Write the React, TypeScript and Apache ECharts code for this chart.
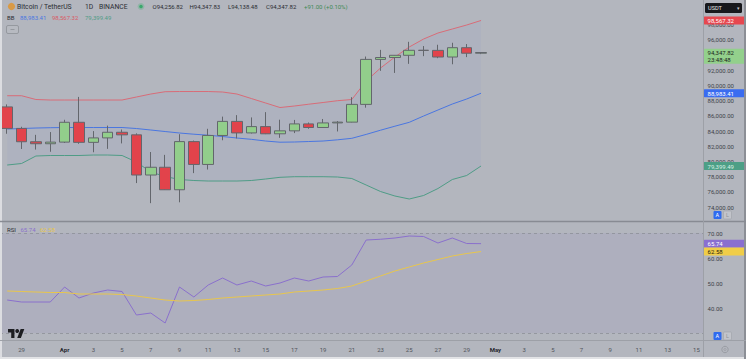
import React, { useEffect, useRef } from "react";
import * as echarts from "echarts";

// ---------- data ----------
const dates = [
  "03-28", "03-29", "03-30", "03-31",
  "04-01", "04-02", "04-03", "04-04", "04-05", "04-06", "04-07", "04-08", "04-09", "04-10",
  "04-11", "04-12", "04-13", "04-14", "04-15", "04-16", "04-17", "04-18", "04-19", "04-20",
  "04-21", "04-22", "04-23", "04-24", "04-25", "04-26", "04-27", "04-28", "04-29", "04-30",
  "05-01", "05-02", "05-03", "05-04", "05-05", "05-06", "05-07", "05-08", "05-09", "05-10",
  "05-11", "05-12", "05-13", "05-14", "05-15",
];
const xLabelDates = [
  "03-29", "04-01", "04-03", "04-05", "04-07", "04-09", "04-11", "04-13", "04-15", "04-17",
  "04-19", "04-21", "04-23", "04-25", "04-27", "04-29", "05-01", "05-03", "05-05", "05-07",
  "05-09", "05-11", "05-13", "05-15",
];
const priceTickLabels = [74000, 76000, 78000, 80000, 82000, 84000, 86000, 88000, 90000, 92000, 96000, 98000];
const rsiTickLabels = [40, 50, 60, 70];

const openP = [87185, 84352, 82597, 82334, 82548, 85159, 82516, 83102, 83843, 83504, 78214, 79235, 76272, 82615, 79607, 83423, 85276, 83760, 84591, 83643, 84030, 84947, 84474, 85077, 85179, 87516, 93442, 93691, 93980, 94638, 94629, 93754, 94982, 94256.82];
const closeP = [84352, 82597, 82334, 82548, 85159, 82516, 83102, 83843, 83504, 78214, 79235, 76272, 82615, 79607, 83423, 85276, 83760, 84591, 83643, 84030, 84947, 84474, 85077, 85179, 87516, 93442, 93691, 93980, 94638, 94629, 93754, 94982, 94256.82, 94347.82];
const lowP = [83646, 81644, 81565, 81278, 82432, 82320, 81211, 81659, 82377, 77153, 74508, 76239, 74620, 78464, 78936, 82792, 83034, 83678, 83600, 83111, 83736, 84303, 84428, 83950, 85144, 87084, 91935, 91660, 92855, 93870, 93602, 92800, 93742, 94138.48];
const highP = [87515, 84567, 83505, 83870, 85487, 88500, 83998, 84720, 84208, 83704, 81243, 80867, 83588, 82753, 84300, 85905, 86100, 85800, 86496, 85500, 85470, 85132, 85595, 85320, 88465, 93817, 94696, 94000, 95758, 95199, 95369, 95630, 95461, 94347.83];

const bbUpper = [88658, 88658, 88158, 88092, 88092, 88092, 88092, 88092, 88092, 88487, 88882, 89185, 89211, 89211, 89211, 89146, 88882, 88290, 87697, 87104, 87302, 87539, 87763, 88000, 88158, 90594, 92306, 93755, 95072, 96126, 96916, 97443, 97970, 98567.32];
const bbBasis = [84273, 84338, 84404, 84444, 84470, 84470, 84470, 84470, 84470, 84338, 84141, 83943, 83746, 83588, 83456, 83285, 83087, 82916, 82692, 82534, 82561, 82626, 82692, 82850, 83048, 83561, 84115, 84641, 85155, 85985, 86775, 87565, 88224, 88983.41];
const bbLower = [79531, 79729, 80717, 80783, 80783, 80783, 80848, 80848, 80783, 79927, 78610, 78017, 77622, 77490, 77424, 77424, 77424, 77490, 77688, 77911, 77990, 77990, 77990, 77951, 77754, 76897, 76041, 75449, 75054, 75515, 76436, 77622, 78149, 79399.49];

const rsi = [43.2, 42.4, 42.4, 42.4, 48.4, 44.0, 46.0, 47.2, 46.6, 37.2, 38.0, 34.0, 48.4, 44.4, 49.2, 52.0, 49.2, 50.8, 48.8, 50.0, 52.0, 50.8, 52.4, 52.6, 57.2, 67.2, 67.5, 68.0, 68.8, 68.6, 66.0, 68.0, 65.8, 65.74];
const rsiMa = [46.8, 46.6, 46.4, 46.2, 46.2, 45.6, 45.6, 45.6, 45.4, 44.8, 44.0, 43.2, 42.8, 43.0, 43.4, 44.0, 44.4, 44.8, 45.2, 45.6, 46.4, 46.8, 47.2, 47.8, 48.8, 50.8, 52.8, 54.8, 56.4, 58.0, 59.4, 60.8, 61.8, 62.58];

const rsiBands = [30, 70];
const countdown = "23:48:48";

// ---------- styles ----------
const FONT = "Roboto, 'Liberation Sans', sans-serif";
const BG = "#b3b6be";
const UP = "#92ce8b";
const DOWN = "#e2434b";
const WICK = "#63666c";
const C_UPPER = "#d86c78";
const C_BASIS = "#4a76e0";
const C_LOWER = "#4f9c86";
const C_RSI = "#8a70cc";
const C_MA = "#e8c64c";
const TXT = "#2b2d33";
const AX = "#40434a";

const fmt2 = (v: number) =>
  v.toLocaleString("en-US", { minimumFractionDigits: 2, maximumFractionDigits: 2 });

try {
  echarts.graphic.registerShape(
    "tvlogo",
    echarts.graphic.extendPath("M14 22H7V11H0V4h14v18zM28 22h-8l7.5-18h8L28 22z", {})
  );
} catch (e) {}

function tagItem(value: number, text: string, bg: string, fg: string, extra: any = {}) {
  return {
    yAxis: value,
    lineStyle: { color: "rgba(0,0,0,0)", width: 1 },
    label: {
      show: true,
      position: "end",
      distance: 0,
      formatter: text,
      backgroundColor: bg,
      color: fg,
      fontSize: 6,
      fontFamily: FONT,
      lineHeight: 7,
      padding: [0.5, 2, 0.5, 4],
      width: 36,
      borderRadius: 1,
      ...extra,
    },
  };
}

function txt(x: number, y: number, text: string, fill: string, size = 6.5, extra: any = {}) {
  return {
    type: "text",
    x,
    y,
    silent: true,
    z: 100,
    style: { text, fill, fontSize: size, fontFamily: FONT, verticalAlign: "middle", ...extra },
  };
}

export default function App() {
  const ref = useRef<HTMLDivElement>(null);
  useEffect(() => {
    if (!ref.current) return;
    const chart = echarts.init(ref.current, null, { renderer: "svg" });
    const n = closeP.length;
    const candles = closeP.map((c, i) => [openP[i], c, lowP[i], highP[i]]);
    const lastO = openP[n - 1];
    const lastC = closeP[n - 1];
    const chg = lastC - lastO;
    const pct = (chg / lastO) * 100;

    const graphic: any[] = [
      // frame lines
      { type: "rect", shape: { x: 0, y: 0, width: 2, height: 359 }, style: { fill: "#dcdde1" }, silent: true, z: 100 },
      { type: "rect", shape: { x: 0, y: 357, width: 746, height: 2 }, style: { fill: "#e2e3e6" }, silent: true, z: 100 },
      { type: "rect", shape: { x: 744, y: 0, width: 2, height: 359 }, style: { fill: "#8c8f96" }, silent: true, z: 100 },
      { type: "line", shape: { x1: 0, y1: 221.5, x2: 746, y2: 221.5 }, style: { stroke: "#888b93", lineWidth: 1.5 }, silent: true, z: 100 },
      { type: "line", shape: { x1: 0, y1: 340.5, x2: 746, y2: 340.5 }, style: { stroke: "#9da0a7", lineWidth: 1 }, silent: true, z: 100 },
      { type: "line", shape: { x1: 703.5, y1: 0, x2: 703.5, y2: 357 }, style: { stroke: "#9da0a7", lineWidth: 1 }, silent: true, z: 100 },
      // header
      { type: "circle", shape: { cx: 11.5, cy: 6.5, r: 3.6 }, style: { fill: "#d99a45" }, silent: true, z: 100 },
      txt(17, 6.8, "Bitcoin / TetherUS", TXT, 6.8),
      txt(85, 6.8, "1D", TXT, 6.8),
      txt(99, 6.8, "BINANCE", TXT, 6.8),
      { type: "circle", shape: { cx: 141, cy: 6.5, r: 3.4 }, style: { fill: "rgba(70,175,120,0.3)" }, silent: true, z: 100 },
      { type: "circle", shape: { cx: 141, cy: 6.5, r: 1.8 }, style: { fill: "#3aa86c" }, silent: true, z: 100 },
      txt(152.5, 6.8, "O" + fmt2(lastO), TXT, 6),
      txt(189.5, 6.8, "H" + fmt2(highP[n - 1]), TXT, 6),
      txt(228, 6.8, "L" + fmt2(lowP[n - 1]), TXT, 6),
      txt(266, 6.8, "C" + fmt2(lastC), TXT, 6),
      txt(304, 6.8, (chg >= 0 ? "+" : "") + fmt2(chg) + " (" + (chg >= 0 ? "+" : "") + pct.toFixed(2) + "%)", "#3f8a55", 6),
      // BB legend
      txt(7, 17.5, "BB", TXT, 6),
      txt(20, 17.5, fmt2(bbBasis[n - 1]), C_BASIS, 6),
      txt(52, 17.5, fmt2(bbUpper[n - 1]), "#d95a66", 6),
      txt(85, 17.5, fmt2(bbLower[n - 1]), C_LOWER, 6),
      { type: "rect", shape: { x: 6.5, y: 25.5, width: 12, height: 8, r: 1.5 }, style: { fill: "rgba(255,255,255,0.06)", stroke: "#8d9097", lineWidth: 0.8 }, silent: true, z: 100 },
      { type: "line", shape: { x1: 10.5, y1: 29.5, x2: 14.5, y2: 29.5 }, style: { stroke: "#8d9097", lineWidth: 0.8 }, silent: true, z: 100 },
      // RSI legend
      txt(7, 229.3, "RSI", TXT, 6),
      txt(20.5, 229.3, rsi[n - 1].toFixed(2), C_RSI, 6),
      txt(40, 229.3, rsiMa[n - 1].toFixed(2), C_MA, 6),
      // currency selector
      { type: "rect", shape: { x: 705, y: 3, width: 37, height: 10, r: 1.5 }, style: { fill: "#17181c" }, silent: true, z: 100 },
      txt(708, 8, "USDT", "#e6e6e8", 5.6),
      txt(736.5, 8, "▾", "#c8c8cc", 5),
      // A / L buttons (main pane)
      { type: "rect", shape: { x: 713.5, y: 211, width: 8, height: 8, r: 1 }, style: { fill: "#2f6bef" }, silent: true, z: 100 },
      txt(715.6, 215.2, "A", "#ffffff", 5.5),
      { type: "rect", shape: { x: 723.5, y: 211, width: 8, height: 8, r: 1 }, style: { fill: "#c2c4ca", stroke: "#9ea1a8", lineWidth: 0.6 }, silent: true, z: 100 },
      txt(726, 215.2, "L", "#8e9198", 5.5),
      // A / L buttons (RSI pane)
      { type: "rect", shape: { x: 713.5, y: 332, width: 8, height: 8, r: 1 }, style: { fill: "#2f6bef" }, silent: true, z: 100 },
      txt(715.6, 336.2, "A", "#ffffff", 5.5),
      { type: "rect", shape: { x: 723.5, y: 332, width: 8, height: 8, r: 1 }, style: { fill: "#c2c4ca", stroke: "#9ea1a8", lineWidth: 0.6 }, silent: true, z: 100 },
      txt(726, 336.2, "L", "#8e9198", 5.5),
      // gear icon
      { type: "circle", shape: { cx: 725, cy: 349.5, r: 3.2 }, style: { fill: "none", stroke: "#9a9da4", lineWidth: 1 }, silent: true, z: 100 },
      { type: "circle", shape: { cx: 725, cy: 349.5, r: 1.1 }, style: { fill: "none", stroke: "#9a9da4", lineWidth: 0.8 }, silent: true, z: 100 },
      // TradingView logo
      { type: "tvlogo", x: 8, y: 327, scaleX: 0.46, scaleY: 0.5, style: { fill: "#1d1e22" }, silent: true, z: 100 },
      { type: "circle", shape: { cx: 8 + 20 * 0.46, cy: 327 + 8 * 0.5, r: 1.9 }, style: { fill: "#1d1e22" }, silent: true, z: 100 },
    ];

    const option: any = {
      animation: false,
      backgroundColor: BG,
      textStyle: { fontFamily: FONT },
      grid: [
        { left: -3.6, top: 0, width: 707.2, height: 222.2 },
        { left: -3.6, top: 222, width: 707.2, height: 136 },
      ],
      xAxis: [
        { type: "category", gridIndex: 0, data: dates, boundaryGap: true, show: false },
        {
          type: "category",
          gridIndex: 1,
          data: dates,
          boundaryGap: true,
          offset: -18,
          axisLine: { show: false },
          axisTick: { show: false },
          splitLine: { show: false },
          axisLabel: {
            interval: (_i: number, v: string) => xLabelDates.includes(v),
            formatter: (v: string) =>
              v === "04-01" ? "{m|Apr}" : v === "05-01" ? "{m|May}" : String(parseInt(v.slice(3), 10)),
            margin: 6,
            fontSize: 6,
            color: "#50535a",
            fontFamily: FONT,
            rich: { m: { fontSize: 6, fontWeight: "bold", color: "#26282e", fontFamily: FONT } },
          },
        },
      ],
      yAxis: [
        {
          type: "value",
          gridIndex: 0,
          position: "right",
          min: 72000,
          max: 101264,
          interval: 2000,
          splitLine: { show: false },
          axisLine: { show: false },
          axisTick: { show: false },
          axisLabel: {
            margin: 4,
            fontSize: 6,
            color: AX,
            fontFamily: FONT,
            formatter: (v: number) => (priceTickLabels.includes(v) ? fmt2(v) : ""),
          },
        },
        {
          type: "value",
          gridIndex: 1,
          position: "right",
          min: 20,
          max: 74.4,
          interval: 10,
          splitLine: { show: false },
          axisLine: { show: false },
          axisTick: { show: false },
          axisLabel: {
            margin: 4,
            fontSize: 6,
            color: AX,
            fontFamily: FONT,
            formatter: (v: number) => (rsiTickLabels.includes(v) ? v.toFixed(2) : ""),
          },
        },
      ],
      series: [
        {
          name: "BB upper",
          type: "line",
          xAxisIndex: 0,
          yAxisIndex: 0,
          data: bbUpper,
          symbol: "none",
          lineStyle: { color: C_UPPER, width: 1 },
          areaStyle: { color: "rgba(80,115,205,0.07)", origin: "start" },
          z: 1,
          markLine: {
            silent: true,
            symbol: ["none", "none"],
            animation: false,
            data: [tagItem(bbUpper[n - 1], fmt2(bbUpper[n - 1]), "#e6474f", "#ffffff")],
          },
        },
        {
          name: "BB lower",
          type: "line",
          xAxisIndex: 0,
          yAxisIndex: 0,
          data: bbLower,
          symbol: "none",
          lineStyle: { color: C_LOWER, width: 1 },
          areaStyle: { color: BG, opacity: 1, origin: "start" },
          z: 1,
          markLine: {
            silent: true,
            symbol: ["none", "none"],
            animation: false,
            data: [tagItem(bbLower[n - 1], fmt2(bbLower[n - 1]), "#4d9f86", "#d8f0e4")],
          },
        },
        {
          name: "BB basis",
          type: "line",
          xAxisIndex: 0,
          yAxisIndex: 0,
          data: bbBasis,
          symbol: "none",
          lineStyle: { color: C_BASIS, width: 1 },
          z: 2,
          markLine: {
            silent: true,
            symbol: ["none", "none"],
            animation: false,
            data: [tagItem(bbBasis[n - 1], fmt2(bbBasis[n - 1]), "#3a6cf0", "#ffffff")],
          },
        },
        {
          name: "BTCUSDT",
          type: "candlestick",
          xAxisIndex: 0,
          yAxisIndex: 0,
          data: candles,
          barWidth: 11,
          z: 3,
          itemStyle: {
            color: UP,
            color0: DOWN,
            borderColor: WICK,
            borderColor0: WICK,
            borderWidth: 1,
          },
          markLine: {
            silent: true,
            symbol: ["none", "none"],
            animation: false,
            data: [
              tagItem(lastC, fmt2(lastC) + "\n" + countdown, "#93d08c", "#1c1f1c", { offset: [0, 3.8] }),
            ],
          },
        },
        {
          name: "RSI",
          type: "line",
          xAxisIndex: 1,
          yAxisIndex: 1,
          data: rsi,
          symbol: "none",
          lineStyle: { color: C_RSI, width: 1 },
          z: 3,
          markArea: {
            silent: true,
            itemStyle: { color: "rgba(120,90,200,0.07)" },
            data: [[{ yAxis: rsiBands[0] }, { yAxis: rsiBands[1] }]],
          },
          markLine: {
            silent: true,
            symbol: ["none", "none"],
            animation: false,
            data: [
              ...rsiBands.map((b) => ({
                yAxis: b,
                lineStyle: { color: "#8c8f97", width: 0.8, type: [3, 3] },
                label: { show: false },
              })),
              tagItem(rsi[n - 1], rsi[n - 1].toFixed(2), "#8a6fd0", "#ffffff"),
            ],
          },
        },
        {
          name: "RSI MA",
          type: "line",
          xAxisIndex: 1,
          yAxisIndex: 1,
          data: rsiMa,
          symbol: "none",
          lineStyle: { color: C_MA, width: 1 },
          z: 3,
          markLine: {
            silent: true,
            symbol: ["none", "none"],
            animation: false,
            data: [tagItem(rsiMa[n - 1], rsiMa[n - 1].toFixed(2), "#f0cd48", "#2a2610")],
          },
        },
      ],
      graphic,
    };
    chart.setOption(option);
    return () => chart.dispose();
  }, []);
  return (
    <div
      ref={ref}
      style={{ position: "fixed", left: 0, top: 0, width: 746, height: 359 }}
    />
  );
}
